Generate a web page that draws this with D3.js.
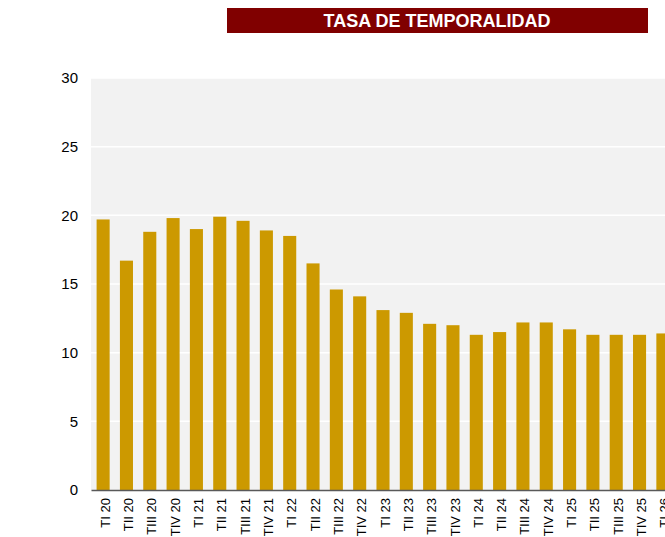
<!DOCTYPE html>
<html>
<head>
<meta charset="utf-8">
<script src="https://cdn.jsdelivr.net/npm/d3@7"></script>
<style>
  body { margin: 0; background: #fff; }
  svg { display: block; font-family: "Liberation Sans", Arial, sans-serif; }
</style>
</head>
<body>
<div id="canvas"></div>
<script>
// quarters shown on the x axis
const quarters = [
  "TI 20", "TII 20", "TIII 20", "TIV 20",
  "TI 21", "TII 21", "TIII 21", "TIV 21",
  "TI 22", "TII 22", "TIII 22", "TIV 22",
  "TI 23", "TII 23", "TIII 23", "TIV 23",
  "TI 24", "TII 24", "TIII 24", "TIV 24",
  "TI 25", "TII 25", "TIII 25", "TIV 25",
  "TI 26"
];

// tasa de temporalidad (%)
const rates = [
  19.7, 16.7, 18.8, 19.8,
  19.0, 19.9, 19.6, 18.9,
  18.5, 16.5, 14.6, 14.1,
  13.1, 12.9, 12.1, 12.0,
  11.3, 11.5, 12.2, 12.2,
  11.7, 11.3, 11.3, 11.3,
  11.4
];

const yTicks = [0, 5, 10, 15, 20, 25, 30];
const title = "TASA DE TEMPORALIDAD";

const W = 665, H = 537;
let margin = { top: 78, left: 91, bottom: 47 };
let plotW = 584, plotH = H - margin.top - margin.bottom;

let svg = d3.select("#canvas")
  .append("svg")
  .attr("width", W)
  .attr("height", H);

// title banner
svg.append("rect")
  .attr("x", 227).attr("y", 8)
  .attr("width", 421).attr("height", 25)
  .attr("fill", "#800000");
svg.append("text")
  .attr("x", 437).attr("y", 20.5)
  .attr("dy", "0.35em")
  .attr("text-anchor", "middle")
  .attr("fill", "#fff")
  .style("font-size", "18px")
  .style("font-weight", "bold")
  .text(title);

let g = svg.append("g")
  .attr("transform", "translate(" + margin.left + "," + margin.top + ")");

let x = d3.scaleBand()
  .domain(quarters)
  .range([0, plotW])
  .paddingInner(0.44)
  .paddingOuter(0.24);

let y = d3.scaleLinear()
  .domain([0, 30])
  .range([plotH, 0]);

// plot background
g.append("rect")
  .attr("width", plotW)
  .attr("height", plotH)
  .attr("fill", "#f2f2f2");

// gridlines
g.selectAll(".grid")
  .data(yTicks.filter(d => d > 0))
  .enter()
  .append("line")
  .attr("class", "grid")
  .attr("x1", 0).attr("x2", plotW)
  .attr("y1", d => y(d)).attr("y2", d => y(d))
  .attr("stroke", "#fff")
  .attr("stroke-width", 1.5);

// bars
g.selectAll(".bar")
  .data(rates)
  .enter()
  .append("rect")
  .attr("class", "bar")
  .attr("x", (d, i) => x(quarters[i]))
  .attr("y", d => y(d))
  .attr("width", x.bandwidth())
  .attr("height", d => plotH - y(d))
  .attr("fill", "#cc9900");

// y axis
let yAxis = g.append("g")
  .call(d3.axisLeft(y).tickValues(yTicks).tickSize(0).tickPadding(13));
yAxis.select(".domain").remove();
yAxis.selectAll("text")
  .style("font-size", "15px")
  .attr("fill", "#000");

// x axis
let xAxis = g.append("g")
  .attr("transform", "translate(0," + plotH + ")")
  .call(d3.axisBottom(x).tickSize(0));
xAxis.select(".domain")
  .attr("stroke", "#595959")
  .attr("stroke-width", 1.5);
xAxis.selectAll("text")
  .style("font-size", "13px")
  .attr("fill", "#000")
  .attr("text-anchor", "end")
  .attr("transform", "rotate(-90)")
  .attr("x", -8)
  .attr("y", 2)
  .attr("dy", "0.35em");
</script>
</body>
</html>
